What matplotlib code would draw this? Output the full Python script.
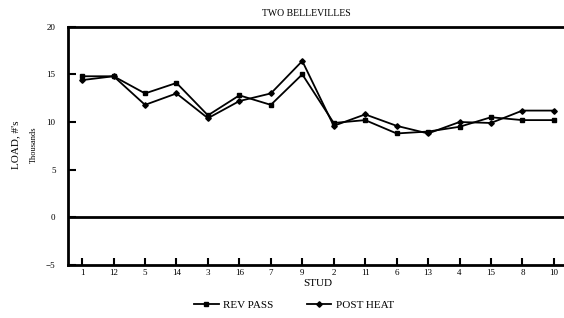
import matplotlib
matplotlib.use("Agg")
import matplotlib.pyplot as plt
import numpy as np

plt.rcParams['font.family'] = ['Liberation Serif', 'DejaVu Serif']

studs = ["1", "12", "5", "14", "3", "16", "7", "9", "2", "11", "6", "13", "4", "15", "8", "10"]
rev_pass = [14.8, 14.8, 13.0, 14.1, 10.7, 12.8, 11.8, 15.0, 9.9, 10.2, 8.8, 9.0, 9.5, 10.5, 10.2, 10.2]
post_heat = [14.4, 14.8, 11.8, 13.0, 10.4, 12.2, 13.0, 16.4, 9.6, 10.8, 9.6, 8.8, 10.0, 9.9, 11.2, 11.2]

fig = plt.figure(figsize=(5.64, 3.18), dpi=100)
ax = fig.add_axes([68 / 564, 1 - 265 / 318, (568 - 68) / 564, (265 - 26.7) / 318])

x = np.arange(len(studs))
l1, = ax.plot(x, rev_pass, color='black', lw=1.3, marker='s', ms=3.5,
              mfc='black', mec='black', label='REV PASS', clip_on=False)
l2, = ax.plot(x, post_heat, color='black', lw=1.3, marker='D', ms=2.8,
              mfc='black', mec='black', label='POST HEAT', clip_on=False)

ax.axhline(0, color='black', lw=2)
ax.set_xlim(-0.45, len(studs) - 0.55)
ax.set_ylim(-5, 20)
ax.set_yticks([-5, 0, 5, 10, 15, 20])
ax.set_xticks(x)
ax.set_xticklabels(studs)

for s in ['top', 'left', 'bottom']:
    ax.spines[s].set_linewidth(2)
ax.spines['right'].set_visible(False)

ax.tick_params(axis='y', direction='in', length=6, width=1.5, pad=9, labelsize=6.5)
ax.tick_params(axis='x', direction='in', length=5, width=1.5, pad=3, labelsize=6.5)

ax.set_xlabel('STUD', fontsize=8, labelpad=1)
fig.text(16 / 564, 1 - 145 / 318, "LOAD, #'s", rotation=90, fontsize=8,
         ha='center', va='center')
fig.text(34 / 564, 1 - 145 / 318, "Thousands", rotation=90, fontsize=6,
         ha='center', va='center')
fig.text(306 / 564, 1 - 13 / 318, "TWO BELLEVILLES", fontsize=7,
         ha='center', va='center')

fig.legend(handles=[l1, l2], loc='center', bbox_to_anchor=(294 / 564, 1 - 305 / 318),
           ncol=2, frameon=False, fontsize=8, handlelength=2.2, columnspacing=3,
           handletextpad=0.4)

fig.savefig('out.png', dpi=100)
